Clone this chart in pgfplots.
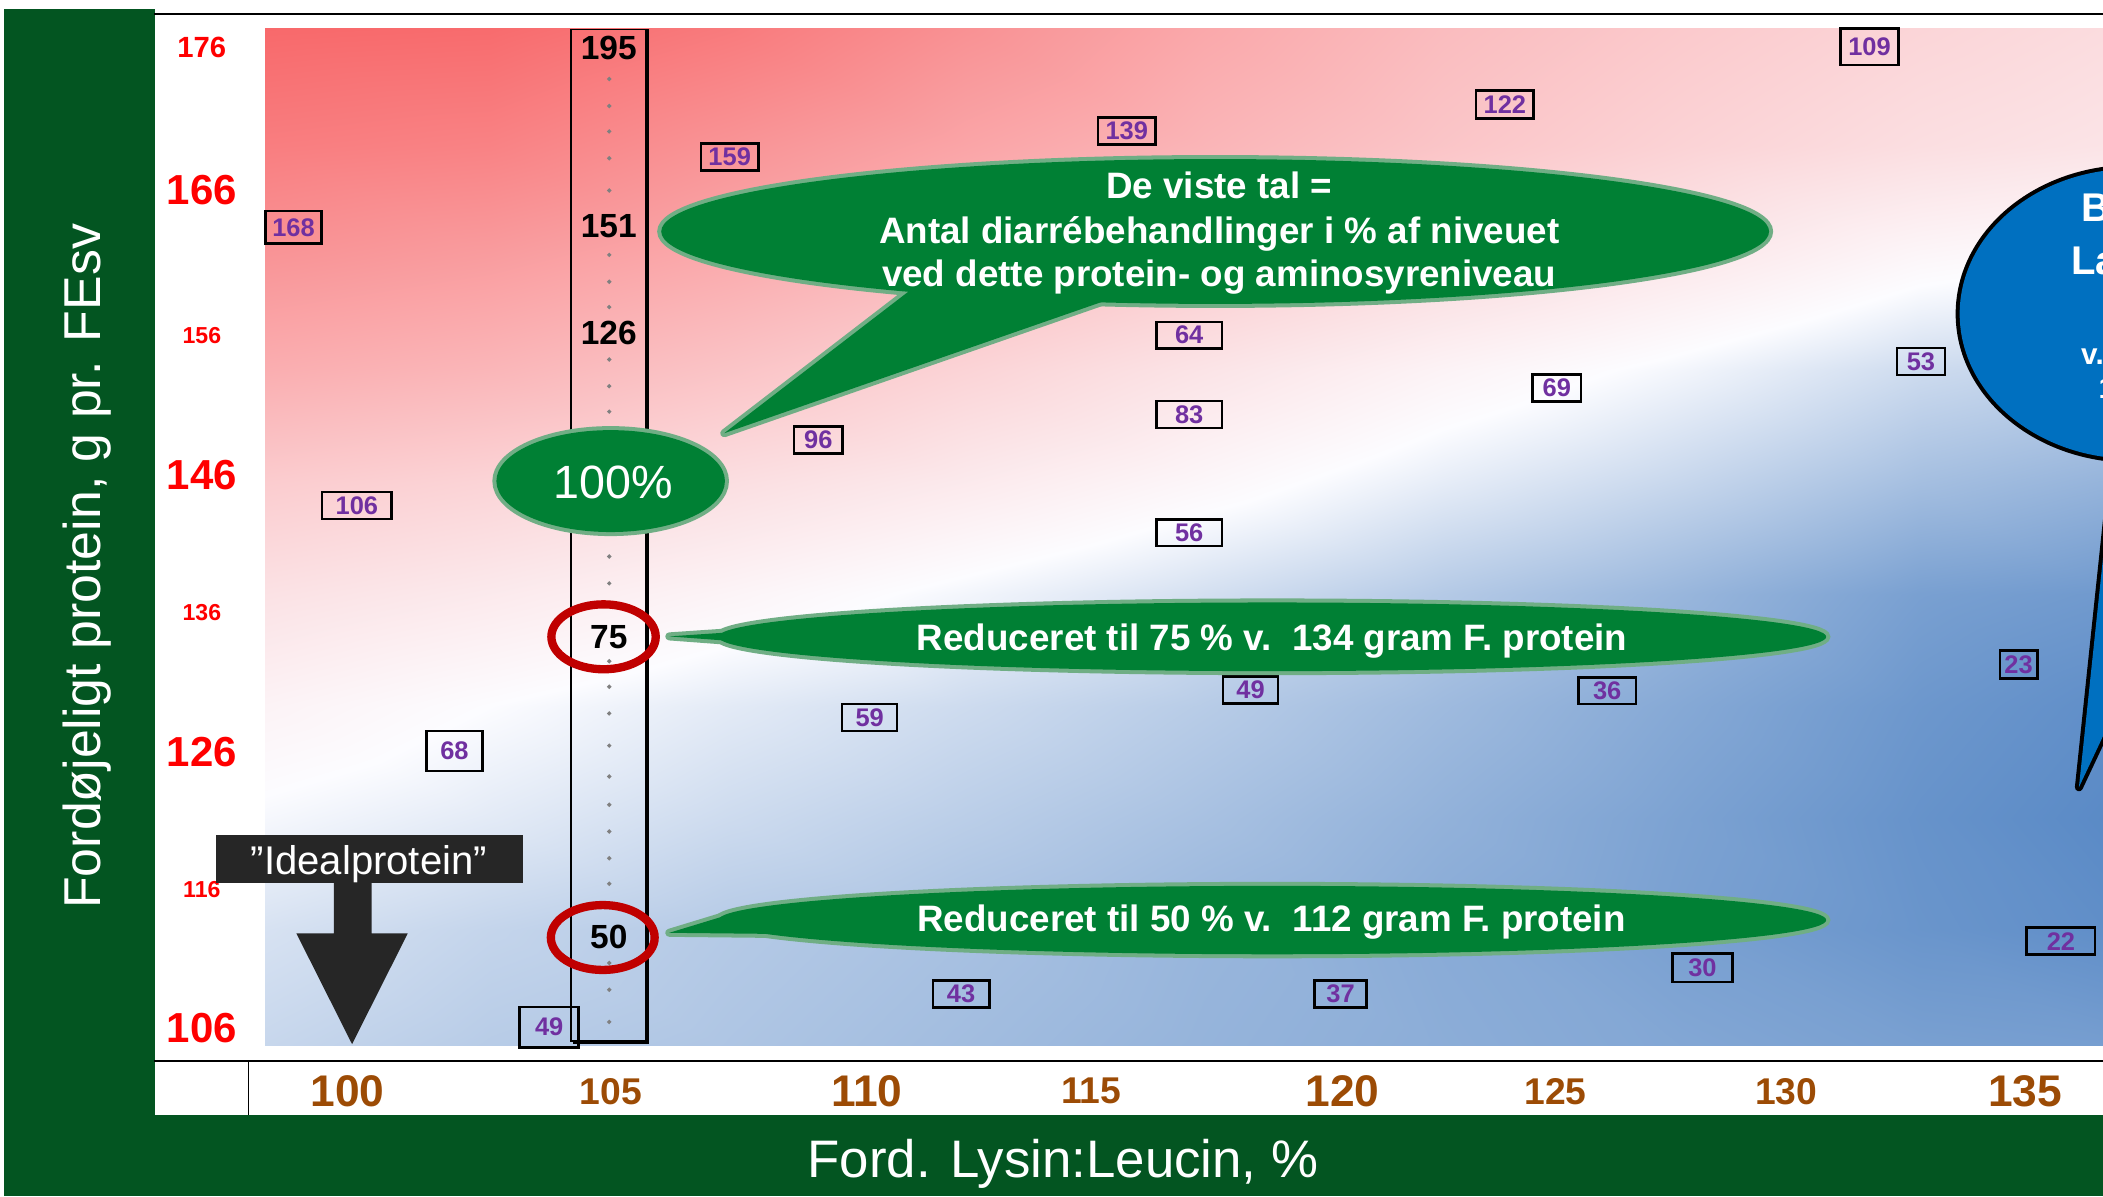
\documentclass[border=0pt]{standalone}
\usepackage{pgfplots}
\pgfplotsset{compat=1.18}
\usepackage{fontspec}
\setmainfont{Liberation Sans}

\definecolor{band}{RGB}{3,85,33}
\definecolor{cgreen}{RGB}{0,128,52}
\definecolor{cborder}{RGB}{112,174,133}
\definecolor{tickred}{RGB}{255,0,0}
\definecolor{tickbrown}{RGB}{156,75,5}
\definecolor{labpurple}{RGB}{112,48,160}
\definecolor{ring}{RGB}{192,0,0}
\definecolor{ideal}{RGB}{38,38,38}
\definecolor{bubble}{RGB}{0,112,192}

\newcommand\fs[1]{\fontsize{#1}{#1}\selectfont}
% pixel grid of the 1568x892 view, y pointing down
\tikzset{px/.style={shift={(0mm,89.2mm)}, x=0.1mm, y=-0.1mm}}

\begin{document}
\begin{tikzpicture}
\clip (0,0) rectangle (156.8mm,89.2mm);
\fill[white] (0,0) rectangle (156.8mm,89.2mm);
\begin{scope}[px]
% dark green bands behind the axis titles
\fill[band] (3,7) rectangle (115.3,892);
\fill[band] (3,831.5) rectangle (1568,892);
\draw[line width=0.35pt] (185.3,791) -- (185.3,831.5);
\end{scope}

\begin{axis}[
  at={(11.5mm,10.08mm)}, anchor=south west,
  scale only axis, width=145.3mm, height=78.08mm,
  xmin=95.944, xmax=136.873, ymin=103.606, ymax=178.424,
  separate axis lines,
  x axis line style={line width=0.55pt},
  y axis line style={draw=none},
  major tick length=0pt,
  xtick={100,105.532,110.910,115.620,120.901,125.375,130.217,135.239},
  xticklabels={{\fs{9.4}100},{\fs{7.9}105},{\fs{9.4}110},{\fs{7.9}115},
               {\fs{9.4}120},{\fs{7.9}125},{\fs{7.9}130},{\fs{9.4}135}},
  xticklabel style={font=\bfseries, text=tickbrown, anchor=center, yshift=-2.25mm},
  ytick={106.0,115.89,125.66,135.63,145.50,155.43,165.85,176.0},
  yticklabels={{\fs{8.9}106},{\fs{4.9}116},{\fs{8.9}126},{\fs{4.9}136},
               {\fs{8.9}146},{\fs{4.9}156},{\fs{8.9}166},{\fs{6.2}176}},
  yticklabel style={font=\bfseries, text=tickred, anchor=center, xshift=3.55mm},
  xlabel={Ford. Lysin:Leucin, \%},
  ylabel={Fordøjeligt protein, g pr. FEsv},
  every axis x label/.style={at={(axis description cs:0.4663,-0.1112)}, anchor=base,
    font=\fs{11.2}, text=white},
  every axis y label/.style={at={(axis description cs:-0.0278,0.4726)}, rotate=90,
    anchor=base, font=\fs{11}, text=white},
  colormap={rwb}{rgb255(20pt)=(90,138,198) rgb255(72pt)=(252,252,255) rgb255(200pt)=(248,105,107)},
  point meta min=20, point meta max=200,
]
% colour field: diarrhoea treatments, % of level
\addplot[surf, shader=interp, mesh/cols=9, point meta=explicit] table[x=x, y=y, meta=v] {
x y v
98.28 104.70 55
103 104.70 50
108 104.70 47
113 104.70 43
118 104.70 39
123 104.70 36
128 104.70 33
133 104.70 30
137 104.70 29
98.28 113 60
103 113 54
108 113 49
113 113 45
118 113 40
123 113 35
128 113 30
133 113 25
137 113 22
98.28 121 70
103 121 64
108 121 57
113 121 51
118 121 45
123 121 38
128 121 31
133 121 24
137 121 20
98.28 129 80
103 129 72
108 129 64
113 129 57
118 129 50
123 129 42
128 129 34
133 129 26
137 129 22
98.28 137 95
103 137 88
108 137 79
113 137 69
118 137 59
123 137 49
128 137 40
133 137 30
137 137 27
98.28 145 114
103 145 107
108 145 98
113 145 88
118 145 77
123 145 65
128 145 55
133 145 44
137 145 39
98.28 153 140
103 153 133
108 153 121
113 153 107
118 153 93
123 153 80
128 153 69
133 153 57
137 153 52
98.28 161 162
103 161 155
108 161 143
113 161 129
118 161 115
123 161 102
128 161 90
133 161 77
137 161 72
98.28 169 182
103 169 178
108 169 163
113 169 148
118 169 134
123 169 120
128 169 108
133 169 98
137 169 93
98.28 177.40 200
103 177.40 198
108 177.40 185
113 177.40 165
118 177.40 145
123 177.40 128
128 177.40 116
133 177.40 106
137 177.40 100
};

% small dots along the 105 column
\addplot[only marks, mark=*, mark size=0.075mm, color=gray] table {
x y
105.5 173.77
105.5 171.85
105.5 170.03
105.5 168.11
105.5 165.81
105.5 161.21
105.5 159.29
105.5 157.48
105.5 153.74
105.5 151.83
105.5 150.01
105.5 139.66
105.5 137.74
105.5 132.18
105.5 130.36
105.5 128.45
105.5 126.15
105.5 123.94
105.5 121.93
105.5 120.01
105.5 118.10
105.5 116.28
105.5 110.62
105.5 108.71
105.5 106.41
};

% boxed values
\addplot[draw=none, point meta=explicit symbolic,
  visualization depends on={value \thisrow{w}\as\bw},
  visualization depends on={value \thisrow{h}\as\bh},
  nodes near coords, nodes near coords align={center},
  nodes near coords style={anchor=center, draw=black, line width=0.55pt, text=labpurple,
    inner sep=0pt, minimum width=\bw mm, minimum height=\bh mm, font=\bfseries\fs{5.4}}]
  table[x=x, y=y, meta=lab] {
lab x y w h
168 98.87 163.18 4.2 2.4
106 100.20 143.30 5.2 2.0
68 102.25 125.76 4.2 3.0
49 104.24 106.03 4.4 3.0
159 108.03 168.20 4.3 2.0
96 109.89 147.98 3.6 2.0
59 110.97 128.16 4.1 2.0
43 112.89 108.39 4.2 2.0
139 116.37 170.06 4.3 2.0
64 117.68 155.47 4.9 2.0
83 117.68 149.81 4.9 2.0
56 117.68 141.36 4.9 2.0
49 118.97 130.12 4.1 2.0
37 120.86 108.39 3.9 2.0
122 124.31 171.96 4.3 2.1
69 125.40 151.70 3.6 2.0
36 126.46 130.07 4.3 2.0
30 128.46 110.28 4.5 2.1
109 131.97 176.07 4.3 2.7
53 133.05 153.60 3.6 2.0
23 135.10 131.94 2.8 2.1
22 135.99 112.18 5.1 2.0
};

% values in the 105 column
\addplot[draw=none, point meta=explicit symbolic,
  nodes near coords, nodes near coords align={center},
  nodes near coords style={anchor=center, text=black, inner sep=0pt, font=\bfseries\fs{7.1}}]
  table[x=x, y=y, meta=lab] {
lab x y
195 105.49 175.96
151 105.49 163.23
126 105.49 155.61
75 105.49 133.93
50 105.49 112.45
};
\end{axis}

\begin{scope}[px]
% frame round the 105 column
\draw[line width=0.35pt] (425.5,21.9) rectangle (481.5,776);
\draw[line width=0.35pt] (483.3,21.9) -- (483.3,777.6) -- (427,777.6);

% "100%" bubble
\draw[cborder, line width=0.6mm] (455.3,358.7) ellipse [x radius=8.52mm, y radius=3.8mm];
\fill[cgreen] (455.3,358.7) ellipse [x radius=8.52mm, y radius=3.8mm];
\node[anchor=base, text=white, font=\fs{9.9}] at (457.5,371.6) {100\%};

% explanation callout
\draw[cborder, line width=0.6mm] (906,172.6) ellipse [x radius=41.3mm, y radius=5.4mm];
\draw[cborder, line width=0.6mm, line join=round] (700,200) -- (540,323) -- (865,210) -- cycle;
\fill[cgreen] (906,172.6) ellipse [x radius=41.3mm, y radius=5.4mm];
\fill[cgreen] (700,200) -- (540,323) -- (865,210) -- cycle;
\node[anchor=base, text=white, font=\bfseries\fs{7.8}] at (909,147.9) {De viste tal =};
\node[anchor=base, text=white, font=\bfseries\fs{7.8}] at (909,181.5) {Antal diarrébehandlinger i \% af niveuet};
\node[anchor=base, text=white, font=\bfseries\fs{7.8}] at (909,213.8) {ved dette protein- og aminosyreniveau};

% 75 % callout
\draw[cborder, line width=0.6mm] (948.6,474.8) ellipse [x radius=41.3mm, y radius=2.56mm];
\draw[cborder, line width=0.6mm, line join=round] (499,474.5) -- (640,465) -- (640,485) -- cycle;
\fill[cgreen] (948.6,474.8) ellipse [x radius=41.3mm, y radius=2.56mm];
\fill[cgreen] (499,474.5) -- (640,465) -- (640,485) -- cycle;
\node[anchor=base, text=white, font=\bfseries\fs{7.8}] at (948.5,484.7) {Reduceret til 75 \% v.\ \ 134 gram F. protein};

% 50 % callout
\draw[cborder, line width=0.6mm] (948.6,686) ellipse [x radius=41.3mm, y radius=2.55mm];
\draw[cborder, line width=0.6mm, line join=round] (499,695.5) -- (540,683) -- (640,676) -- (640,697) -- cycle;
\fill[cgreen] (948.6,686) ellipse [x radius=41.3mm, y radius=2.55mm];
\fill[cgreen] (499,695.5) -- (540,683) -- (640,676) -- (640,697) -- cycle;
\node[anchor=base, text=white, font=\bfseries\fs{7.8}] at (948,694.8) {Reduceret til 50 \% v.\ \ 112 gram F. protein};

% red rings
\draw[ring, line width=0.62mm] (450,474.8) ellipse [x radius=3.89mm, y radius=2.42mm];
\draw[ring, line width=0.62mm] (449.4,699) ellipse [x radius=3.87mm, y radius=2.42mm];

% "Idealprotein" arrow
\fill[ideal] (161,622.7) rectangle (390,658.7);
\fill[ideal] (249,658) -- (277,658) -- (277,696) -- (304,696) -- (262.5,778.5) -- (221,696) -- (249,696) -- cycle;
\node[anchor=base, text=white, font=\fs{8.5}] at (275,651.8) {”Idealprotein”};

% blue callout, cut by the right edge
\draw[black, line width=0.6mm] (1590,234) ellipse [x radius=12.89mm, y radius=10.81mm];
\draw[black, line width=0.6mm, line join=round] (1550,587) -- (1577,330) -- (1671,330) -- cycle;
\fill[bubble] (1590,234) ellipse [x radius=12.89mm, y radius=10.81mm];
\fill[bubble] (1550,587) -- (1577,330) -- (1671,330) -- cycle;
\node[anchor=base west, inner sep=0pt, text=white, font=\bfseries\fs{8.5}] at (1551,165.3) {B};
\node[anchor=base west, inner sep=0pt, text=white, font=\bfseries\fs{8.5}] at (1543.6,204.7) {La};
\node[anchor=base west, inner sep=0pt, text=white, font=\bfseries\fs{6.3}] at (1551,271.5) {v.};
\node[anchor=base west, inner sep=0pt, text=white, font=\bfseries\fs{6.3}] at (1564,297) {1};
\end{scope}
\end{tikzpicture}
\end{document}
